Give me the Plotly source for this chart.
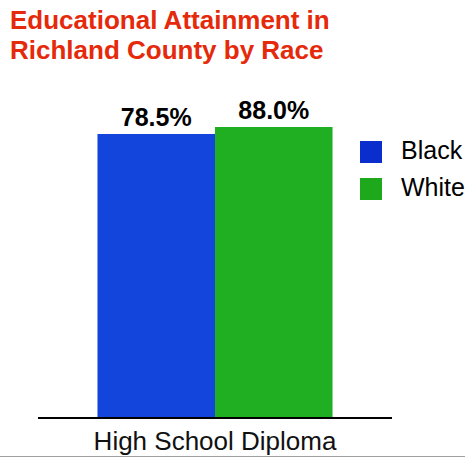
import plotly.graph_objects as go

# Data
categories = ["High School Diploma"]
series_names = ["Black", "White"]
black_values = [78.5]
white_values = [88.0]
series_values = [black_values, white_values]
series_colors = ["#1345DD", "#20AE23"]
legend_colors = ["#0A2ECD", "#1EA81C"]

title_lines = ["Educational Attainment in", "Richland County by Race"]

FONT = "Liberation Sans, Arial, Helvetica, sans-serif"
W, H = 465, 458
M_L, M_R, M_T, M_B = 38, 73, 100, 41
PLOT_H = H - M_T - M_B

# value axis: bars rise from a common floor below zero
axis_floor = -300
axis_top = 124.1


def py(pixel_y):
    """Convert a pixel row to paper y."""
    return (H - M_B - pixel_y) / PLOT_H


def px(pixel_x):
    return (pixel_x - M_L) / (W - M_L - M_R)


fig = go.Figure()
for name, vals, color in zip(series_names, series_values, series_colors):
    fig.add_trace(go.Bar(
        x=categories,
        y=[v - axis_floor for v in vals],
        base=[axis_floor] * len(vals),
        name=name,
        marker=dict(color=color, line=dict(width=0)),
        text=[f"{v:.1f}%" for v in vals],
        textposition="outside",
        textfont=dict(family=FONT, size=25, color="#000000", weight="bold"),
        cliponaxis=False,
        showlegend=False,
    ))

annotations = []
for i, line in enumerate(title_lines):
    annotations.append(dict(
        text=f"<b>{line}</b>", xref="paper", yref="paper",
        x=px(8), y=py(20 + 29.5 * i), xanchor="left", yanchor="middle",
        showarrow=False,
        font=dict(family=FONT, size=26, color="#E5290B"),
    ))

shapes = []
for i, (name, color) in enumerate(zip(series_names, legend_colors)):
    top = 141 + 37 * i
    shapes.append(dict(
        type="rect", xref="paper", yref="paper",
        x0=px(360), x1=px(382), y0=py(top + 22), y1=py(top),
        fillcolor=color, line=dict(width=0),
    ))
    annotations.append(dict(
        text=name, xref="paper", yref="paper",
        x=px(399), y=py(top + 9), xanchor="left", yanchor="middle",
        showarrow=False,
        font=dict(family=FONT, size=25, color="#000000"),
    ))

# thin rule along the bottom edge
shapes.append(dict(
    type="line", xref="paper", yref="paper",
    x0=px(0), x1=px(W), y0=py(456.5), y1=py(456.5),
    line=dict(color="#A0A0A0", width=1),
))

fig.update_layout(
    width=W, height=H,
    margin=dict(l=M_L, r=M_R, t=M_T, b=M_B, autoexpand=False),
    paper_bgcolor="white", plot_bgcolor="white",
    barmode="group", bargap=0.336, bargroupgap=0,
    showlegend=False,
    xaxis=dict(
        showline=True, linecolor="#000000", linewidth=2,
        ticks="", showgrid=False, zeroline=False, automargin=False,
        tickfont=dict(family=FONT, size=26, color="#111111"),
    ),
    yaxis=dict(
        range=[axis_floor, axis_top], visible=False,
        showgrid=False, zeroline=False, automargin=False,
    ),
    annotations=annotations,
    shapes=shapes,
)

fig.write_html("out.html")
